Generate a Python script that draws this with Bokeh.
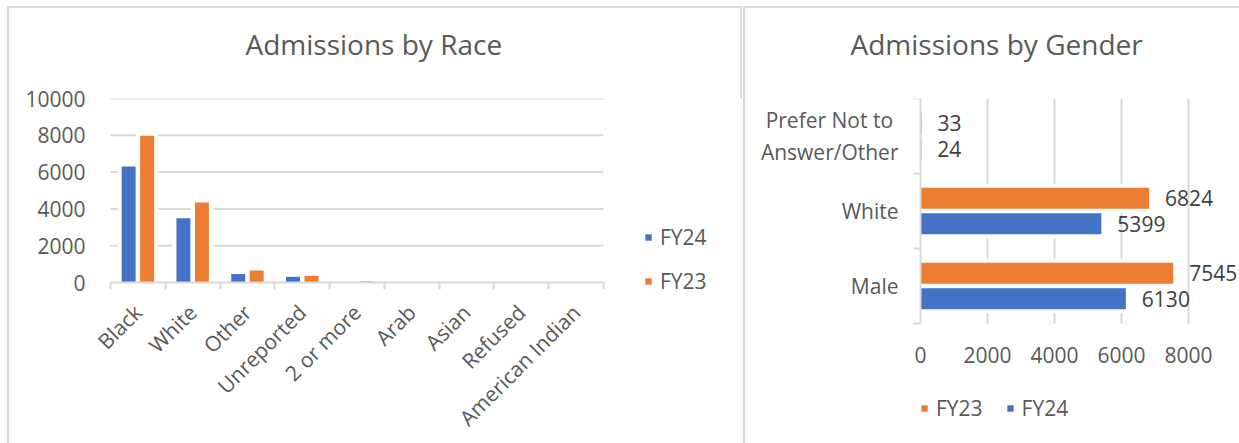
import math
from bokeh.plotting import figure
from bokeh.models import (ColumnDataSource, FixedTicker, Range1d, Legend, LegendItem,
                          LinearAxis, Title)
from bokeh.layouts import row
from bokeh.embed import file_html
from bokeh.resources import INLINE
from bokeh.core.properties import value

# ---------------- data ----------------
race_categories = ["Black", "White", "Other", "Unreported", "2 or more",
                   "Arab", "Asian", "Refused", "American Indian"]
race_fy24 = [6300, 3490, 460, 310, 10, 8, 6, 4, 3]
race_fy23 = [7970, 4350, 655, 365, 60, 10, 8, 5, 4]
race_y_ticks = [0, 2000, 4000, 6000, 8000, 10000]

gender_categories = ["Male", "White", "Prefer Not to Answer/Other"]   # bottom -> top
gender_tick_labels = ["Male", "White", "Prefer Not to\u00a0\nAnswer/Other"]
gender_fy23 = [7545, 6824, 33]
gender_fy24 = [6130, 5399, 24]
gender_x_ticks = [0, 2000, 4000, 6000, 8000]

# ---------------- style ----------------
FONT = "Open Sans"
TXT = "#595959"
LBL = "#404040"
GRID = "#d9d9d9"
BLUE = "#4472C4"
ORANGE = "#ED7D31"
FS = "21px"
W1, W2, H = 742, 497, 443


def style_title(p, text, offset):
    p.title.text = text
    p.title.text_font = FONT
    p.title.text_font_size = "28px"
    p.title.text_font_style = "normal"
    p.title.text_color = TXT
    p.title.align = "left"
    p.title.vertical_align = "bottom"
    p.title.offset = offset
    p.title.standoff = 0
    # spacer between the frame and the title
    p.add_layout(Title(text=" ", text_font_size="10px", standoff=23), "above")


def legend(items, location, orientation, spacing):
    return Legend(items=items, location=location, orientation=orientation,
                  glyph_width=8, glyph_height=8, label_standoff=8, spacing=spacing,
                  label_height=21, padding=0, margin=0,
                  border_line_color=None, background_fill_alpha=0,
                  label_text_font=FONT, label_text_font_size=FS, label_text_color=TXT)


# ================= left: Admissions by Race =================
n = len(race_categories)
centers = [i + 0.5 for i in range(n)]
src_race = ColumnDataSource(dict(
    x24=[c - 0.169 for c in centers],
    x23=[c + 0.169 for c in centers],
    fy24=race_fy24, fy23=race_fy23))

# frame: x 89..742 (plot area 110..603), y 98..443 (plot area 98..282)
ymax = race_y_ticks[-1]
band = (603 - 110) / n
p1 = figure(width=W1, height=H,
            x_range=Range1d(-(110 - 89) / band, (W1 - 110) / band),
            y_range=Range1d(-ymax * (H - 282) / (282 - 98), ymax + 1),
            output_backend="svg", toolbar_location=None,
            min_border_left=89, min_border_right=0, min_border_top=98, min_border_bottom=0,
            styles={"box-shadow": "inset 7px 6px 0 0 #ffffff, inset 9px 8px 0 0 #d9d9d9, "
                                  "inset -2px 0 0 0 #d9d9d9"})
p1.outline_line_color = None
p1.background_fill_color = "white"
p1.border_fill_alpha = 0
style_title(p1, "Admissions by Race", 156)

xa = p1.xaxis[0]
xa.fixed_location = 0
xa.bounds = (0, n)
xa.ticker = FixedTicker(ticks=centers, minor_ticks=list(range(n + 1)))
xa.major_label_overrides = {c: name for c, name in zip(centers, race_categories)}
xa.major_label_orientation = math.pi / 4
xa.major_label_text_font = FONT
xa.major_label_text_font_size = FS
xa.major_label_text_color = TXT
xa.major_label_standoff = 19
xa.major_tick_line_color = None
xa.major_tick_in = 0
xa.major_tick_out = 0
xa.minor_tick_in = 0
xa.minor_tick_out = 7
xa.minor_tick_line_color = GRID
xa.minor_tick_line_width = 2
xa.axis_line_color = GRID
xa.axis_line_width = 2

ya = p1.yaxis[0]
ya.ticker = FixedTicker(ticks=race_y_ticks)
ya.axis_line_color = None
ya.major_tick_line_color = None
ya.minor_tick_line_color = None
ya.major_tick_in = 0
ya.major_tick_out = 0
ya.minor_tick_out = 0
ya.major_label_standoff = 4
ya.major_label_text_font = FONT
ya.major_label_text_font_size = FS
ya.major_label_text_color = TXT

p1.xgrid.visible = False
p1.ygrid.visible = False
gl1 = race_y_ticks[1:]
p1.segment(x0=[0] * len(gl1), x1=[n] * len(gl1), y0=gl1, y1=gl1,
           line_color=GRID, line_width=2)

for key, xs in (("fy24", "x24"), ("fy23", "x23")):
    p1.vbar(x=xs, top=key, bottom=0, width=0.255, source=src_race,
            fill_color="white", line_color="white", line_width=8, line_join="miter")
b24 = p1.vbar(x="x24", top="fy24", bottom=0, width=0.255, source=src_race,
              fill_color=BLUE, line_color=None)
b23 = p1.vbar(x="x23", top="fy23", bottom=0, width=0.255, source=src_race,
              fill_color=ORANGE, line_color=None)

p1.add_layout(legend([LegendItem(label="FY24", renderers=[b24]),
                      LegendItem(label="FY23", renderers=[b23])],
                     (555, 148), "vertical", 16), "center")

# ================= right: Admissions by Gender =================
m = len(gender_categories)
gcent = [i + 0.5 for i in range(m)]
src_g = ColumnDataSource(dict(
    y23=[c + 0.169 for c in gcent],
    y24=[c - 0.169 for c in gcent],
    fy23=gender_fy23, fy24=gender_fy24,
    t23=[str(v) for v in gender_fy23], t24=[str(v) for v in gender_fy24]))

# frame: x 905..1239 (plot area 920..1188), y 98..443 (plot area 98..323)
xmax = gender_x_ticks[-1]
pxu = (1188 - 920) / xmax
p2 = figure(width=W2, height=H,
            x_range=Range1d(-(920 - 905) / pxu, (1239 - 920) / pxu),
            y_range=Range1d(-m * (H - 323) / (323 - 98), m),
            output_backend="svg", toolbar_location=None,
            min_border_left=905 - W1, min_border_right=0, min_border_top=98, min_border_bottom=0,
            styles={"box-shadow": "inset 1px 6px 0 0 #ffffff, inset 3px 8px 0 0 #d9d9d9"})
p2.outline_line_color = None
p2.background_fill_color = "white"
p2.border_fill_alpha = 0
style_title(p2, "Admissions by Gender", 850 - 905)

xb = p2.xaxis[0]
xb.fixed_location = 0
xb.ticker = FixedTicker(ticks=gender_x_ticks)
xb.axis_line_color = None
xb.major_tick_line_color = None
xb.minor_tick_line_color = None
xb.major_tick_in = 0
xb.major_tick_out = 0
xb.minor_tick_out = 0
xb.major_label_standoff = 23
xb.major_label_text_font = FONT
xb.major_label_text_font_size = FS
xb.major_label_text_color = TXT

# category labels (left panel)
yb = p2.yaxis[0]
yb.ticker = FixedTicker(ticks=gcent)
yb.major_label_overrides = {c: lab for c, lab in zip(gcent, gender_tick_labels)}
yb.major_label_text_font = FONT
yb.major_label_text_font_size = FS
yb.major_label_text_color = TXT
yb.major_label_text_line_height = 1.13
yb.major_label_standoff = 7
yb.major_tick_line_color = None
yb.minor_tick_line_color = None
yb.major_tick_in = 0
yb.major_tick_out = 0
yb.minor_tick_out = 0
yb.axis_line_color = None

# category axis line with boundary ticks at value 0
yline = LinearAxis(fixed_location=0, bounds=(0, m),
                   ticker=FixedTicker(ticks=[], minor_ticks=list(range(m + 1))),
                   axis_line_color=GRID, axis_line_width=2,
                   major_tick_line_color=None, major_tick_in=0, major_tick_out=0,
                   minor_tick_in=0, minor_tick_out=7,
                   minor_tick_line_color=GRID, minor_tick_line_width=2,
                   major_label_text_alpha=0)
p2.add_layout(yline, "left")

p2.xgrid.visible = False
p2.ygrid.visible = False
gl2 = gender_x_ticks[1:]
p2.segment(x0=gl2, x1=gl2, y0=[0] * len(gl2), y1=[m] * len(gl2),
           line_color=GRID, line_width=2)

for key, ys in (("fy23", "y23"), ("fy24", "y24")):
    p2.hbar(y=ys, right=key, left=0, height=0.28, source=src_g,
            fill_color="white", line_color="white", line_width=8, line_join="miter")
h23 = p2.hbar(y="y23", right="fy23", left=0, height=0.28, source=src_g,
              fill_color=ORANGE, line_color=None)
h24 = p2.hbar(y="y24", right="fy24", left=0, height=0.28, source=src_g,
              fill_color=BLUE, line_color=None)

for xk, yk, tk in (("fy23", "y23", "t23"), ("fy24", "y24", "t24")):
    p2.text(x=xk, y=yk, text=tk, source=src_g, x_offset=16,
            text_align="left", text_baseline="middle",
            text_font=value(FONT), text_font_size=FS, text_color=LBL)

p2.add_layout(legend([LegendItem(label="FY23", renderers=[h23]),
                      LegendItem(label="FY24", renderers=[h24])],
                     (15, 21), "horizontal", 23), "center")

layout = row(p1, p2)
open("out.html", "w").write(file_html(layout, INLINE))
